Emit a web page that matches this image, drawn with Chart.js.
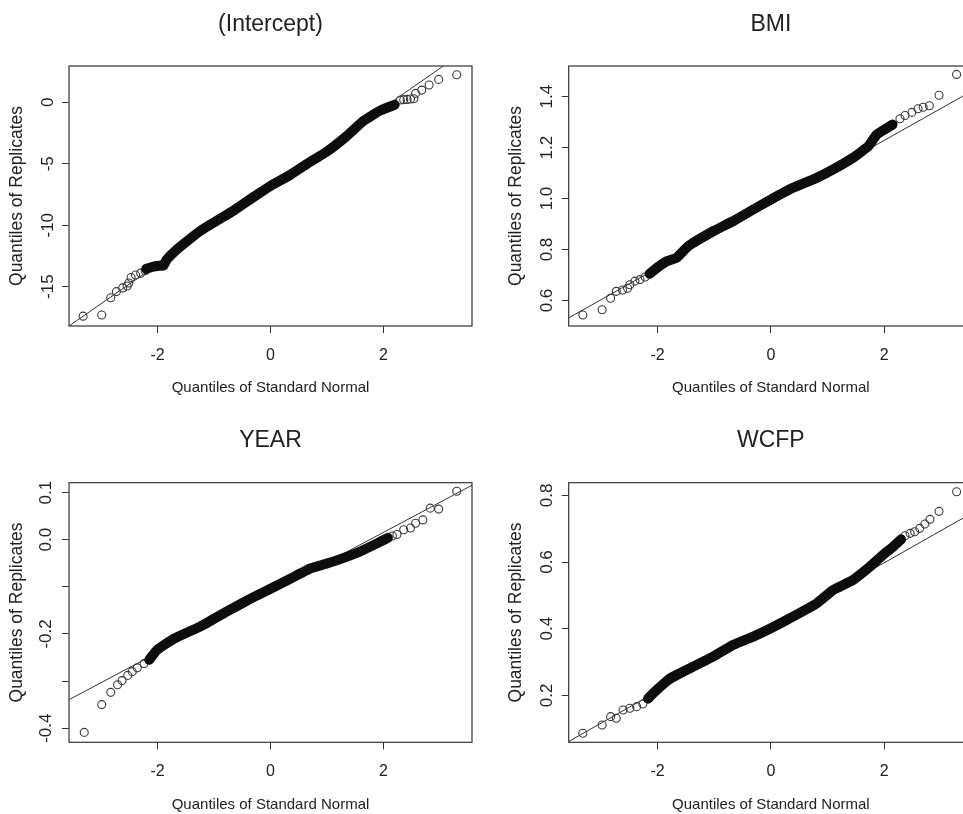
<!DOCTYPE html>
<html>
<head>
<meta charset="utf-8">
<script src="https://cdn.jsdelivr.net/npm/chart.js@4.4.1/dist/chart.umd.min.js"></script>
<style>
  html, body { margin: 0; padding: 0; background: #fff; overflow: hidden; }
  body { width: 963px; height: 814px; position: relative; }
  canvas { position: absolute; }
  #qqIntercept { left: 0; top: 0; }
  #qqBmi { left: 480px; top: 0; }
  #qqYear { left: 0; top: 400px; }
  #qqWcfp { left: 480px; top: 400px; }
</style>
</head>
<body>
<canvas id="qqIntercept" width="480" height="400"></canvas>
<canvas id="qqBmi" width="501" height="400"></canvas>
<canvas id="qqYear" width="480" height="414"></canvas>
<canvas id="qqWcfp" width="501" height="414"></canvas>
<script>
// ============================================================================
// DATA
// ============================================================================

const panelTitles = ['(Intercept)', 'BMI', 'YEAR', 'WCFP'];
const xAxisTitle = 'Quantiles of Standard Normal';
const yAxisTitle = 'Quantiles of Replicates';
const xRange = [-3.57, 3.57];

// (Intercept)
const interceptRange = [-18.2, 2.96];
const interceptBand = [[-2.2, -13.55], [-2.1, -13.4], [-1.98, -13.3], [-1.9, -13.3], [-1.84, -12.8], [-1.7, -12.15],
  [-1.56, -11.6], [-1.24, -10.45], [-0.94, -9.6], [-0.65, -8.8], [-0.3, -7.7], [0, -6.8], [0.35, -5.9],
  [0.65, -5.0], [1.0, -4.0], [1.36, -2.7], [1.65, -1.5], [1.95, -0.65], [2.2, -0.2]];
const interceptTails = [[-3.32, -17.4], [-2.99, -17.3], [-2.83, -15.9], [-2.73, -15.4], [-2.62, -15.1],
  [-2.54, -14.95], [-2.51, -14.7], [-2.47, -14.25], [-2.39, -14.05], [-2.3, -13.9], [-2.22, -13.7],
  [2.3, 0.19], [2.36, 0.22], [2.42, 0.24], [2.48, 0.28], [2.54, 0.29], [2.57, 0.73], [2.68, 1.0],
  [2.81, 1.41], [2.98, 1.87], [3.3, 2.25]];
const interceptRefLine = [[-4, -19.57], [4, 5.95]];

// BMI
const bmiRange = [0.5, 1.52];
const bmiBand = [[-2.14, 0.705], [-2.0, 0.73], [-1.84, 0.754], [-1.67, 0.767], [-1.46, 0.813], [-1.02, 0.872],
  [-0.67, 0.911], [-0.31, 0.957], [0, 0.996], [0.39, 1.042], [0.81, 1.081], [1.1, 1.114], [1.45, 1.16],
  [1.72, 1.205], [1.87, 1.251], [2.01, 1.271], [2.15, 1.29]];
const bmiTails = [[-3.32, 0.543], [-2.98, 0.564], [-2.83, 0.609], [-2.73, 0.636], [-2.62, 0.641],
  [-2.53, 0.648], [-2.49, 0.662], [-2.4, 0.676], [-2.31, 0.682], [-2.22, 0.692],
  [2.28, 1.313], [2.37, 1.326], [2.49, 1.338], [2.6, 1.352], [2.69, 1.358], [2.8, 1.364],
  [2.97, 1.405], [3.28, 1.487]];
const bmiRefLine = [[-4, 0.478], [4, 1.478]];

// YEAR
const yearRange = [-0.43, 0.121];
const yearBand = [[-2.15, -0.255], [-2.01, -0.234], [-1.71, -0.21], [-1.24, -0.184], [-0.77, -0.152],
  [-0.3, -0.122], [0, -0.104], [0.35, -0.083], [0.71, -0.061], [1.12, -0.046], [1.59, -0.025],
  [1.95, -0.004], [2.08, 0.004]];
const yearTails = [[-3.3, -0.409], [-2.99, -0.35], [-2.83, -0.324], [-2.71, -0.308], [-2.63, -0.299],
  [-2.53, -0.288], [-2.45, -0.28], [-2.36, -0.272], [-2.24, -0.263],
  [2.16, 0.008], [2.24, 0.011], [2.36, 0.021], [2.48, 0.025], [2.57, 0.035], [2.7, 0.042],
  [2.83, 0.067], [2.98, 0.065], [3.3, 0.103]];
const yearRefLine = [[-4, -0.367], [4, 0.143]];

// WCFP
const wcfpRange = [0.059, 0.838];
const wcfpBand = [[-2.17, 0.19], [-2.08, 0.206], [-1.78, 0.251], [-1.49, 0.276], [-1.02, 0.316],
  [-0.67, 0.351], [-0.31, 0.376], [0, 0.401], [0.39, 0.436], [0.81, 0.476], [1.1, 0.516], [1.45, 0.546],
  [1.75, 0.586], [1.98, 0.621], [2.16, 0.646], [2.3, 0.668]];
const wcfpTails = [[-3.32, 0.086], [-2.98, 0.111], [-2.83, 0.136], [-2.73, 0.131], [-2.61, 0.156],
  [-2.49, 0.161], [-2.37, 0.166], [-2.26, 0.174],
  [2.37, 0.679], [2.46, 0.686], [2.54, 0.691], [2.63, 0.701], [2.72, 0.714], [2.81, 0.728],
  [2.97, 0.752], [3.28, 0.811]];
const wcfpRefLine = [[-4, 0.02], [4, 0.79]];

// y tick spacing and which tick values get a printed label
const yStepSizes = [5, 0.2, 0.1, 0.2];
const yearLabelledTicks = [0.1, 0.0, -0.2, -0.4];

// ============================================================================
// HELPERS
// ============================================================================

const FONT = '"Liberation Sans", Arial, Helvetica, sans-serif';
const INK = '#222';

const toPoints = pairs => pairs.map(p => ({ x: p[0], y: p[1] }));

// R style box round the plot region
const boxPlugin = {
  id: 'plotBox',
  afterDraw(chart) {
    const { ctx, chartArea: a } = chart;
    ctx.save();
    ctx.strokeStyle = '#333';
    ctx.lineWidth = 1.2;
    ctx.strokeRect(a.left, a.top, a.right - a.left, a.bottom - a.top);
    ctx.restore();
  }
};

/**
 * Build one QQ panel
 */
function drawPanel(canvasId, opts) {
  const ctx = document.getElementById(canvasId).getContext('2d');
  return new Chart(ctx, {
    type: 'scatter',
    data: {
      datasets: [
        {
          // dense run of overlapping circles, drawn as a heavy stroke
          type: 'line',
          data: toPoints(opts.band),
          borderColor: '#0d0d0d',
          borderWidth: 10,
          borderCapStyle: 'round',
          borderJoinStyle: 'round',
          tension: 0.12,
          pointRadius: 0,
          fill: false
        },
        {
          data: toPoints(opts.tails),
          pointStyle: 'circle',
          pointRadius: 4,
          pointBorderWidth: 1.1,
          pointBorderColor: '#3a3a3a',
          pointBackgroundColor: 'rgba(0,0,0,0)'
        },
        {
          type: 'line',
          data: toPoints(opts.ref),
          borderColor: '#333',
          borderWidth: 1,
          pointRadius: 0,
          fill: false
        }
      ]
    },
    options: {
      responsive: false,
      animation: false,
      events: [],
      layout: { padding: { left: 0, right: 8, top: 0, bottom: 0 } },
      plugins: {
        legend: { display: false },
        tooltip: { enabled: false },
        title: {
          display: true,
          text: opts.title,
          fullSize: false,
          color: INK,
          font: { family: FONT, size: 23, weight: 'normal' },
          padding: { top: opts.titleTop, bottom: opts.titleBottom }
        }
      },
      scales: {
        x: {
          type: 'linear',
          min: xRange[0],
          max: xRange[1],
          afterFit: s => { s.height = opts.xAxisHeight; },
          ticks: {
            stepSize: 2,
            includeBounds: false,
            autoSkip: false,
            maxRotation: 0,
            padding: 13,
            color: INK,
            font: { family: FONT, size: 16 },
            callback: v => String(v)
          },
          grid: { drawOnChartArea: false, tickLength: 7, tickColor: '#333', tickWidth: 1 },
          border: { display: false },
          title: {
            display: true,
            text: xAxisTitle,
            color: INK,
            font: { family: FONT, size: 15 },
            padding: { top: 0, bottom: opts.xTitleBottom }
          }
        },
        y: {
          type: 'linear',
          min: opts.range[0],
          max: opts.range[1],
          afterFit: s => { s.width = opts.yAxisWidth; },
          ticks: {
            stepSize: opts.step,
            includeBounds: false,
            autoSkip: false,
            minRotation: 90,
            maxRotation: 90,
            crossAlign: 'center',
            padding: opts.yTickPad,
            color: INK,
            font: { family: FONT, size: 17 },
            callback: opts.yLabel
          },
          grid: { drawOnChartArea: false, tickLength: 7, tickColor: '#333', tickWidth: 1 },
          border: { display: false },
          title: {
            display: true,
            text: yAxisTitle,
            color: INK,
            font: { family: FONT, size: 17.5 },
            padding: { top: opts.yTitlePad, bottom: 0 }
          }
        }
      }
    },
    plugins: [boxPlugin]
  });
}

// ============================================================================
// PANELS
// ============================================================================

const topRow = { titleTop: 11, titleBottom: 27.4, xAxisHeight: 74, xTitleBottom: 3 };
const bottomRow = { titleTop: 27, titleBottom: 28.1, xAxisHeight: 71.7, xTitleBottom: 0 };
const leftCol = { yAxisWidth: 69, yTitlePad: 7 };
const rightCol = { yAxisWidth: 88.7, yTitlePad: 26 };

drawPanel('qqIntercept', Object.assign({}, topRow, leftCol, {
  title: panelTitles[0], band: interceptBand, tails: interceptTails, ref: interceptRefLine,
  range: interceptRange, step: yStepSizes[0], yTickPad: 1,
  yLabel: v => String(v)
}));

drawPanel('qqBmi', Object.assign({}, topRow, rightCol, {
  title: panelTitles[1], band: bmiBand, tails: bmiTails, ref: bmiRefLine,
  range: bmiRange, step: yStepSizes[1], yTickPad: 3,
  yLabel: v => v.toFixed(1)
}));

drawPanel('qqYear', Object.assign({}, bottomRow, leftCol, {
  title: panelTitles[2], band: yearBand, tails: yearTails, ref: yearRefLine,
  range: yearRange, step: yStepSizes[2], yTickPad: 1,
  yLabel: v => yearLabelledTicks.some(t => Math.abs(t - v) < 1e-6) ? v.toFixed(1) : ''
}));

drawPanel('qqWcfp', Object.assign({}, bottomRow, rightCol, {
  title: panelTitles[3], band: wcfpBand, tails: wcfpTails, ref: wcfpRefLine,
  range: wcfpRange, step: yStepSizes[3], yTickPad: 3,
  yLabel: v => v.toFixed(1)
}));
</script>
</body>
</html>
